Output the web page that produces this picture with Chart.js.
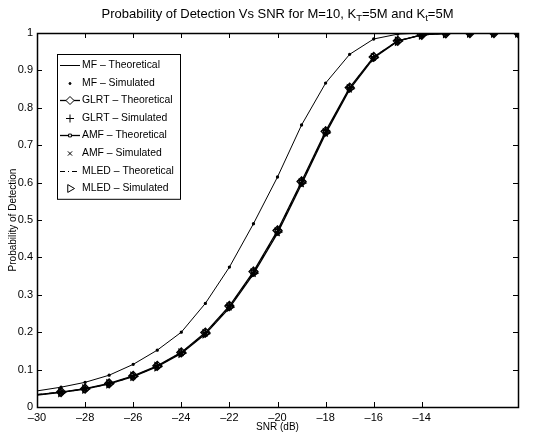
<!DOCTYPE html>
<html>
<head>
<meta charset="utf-8">
<script src="https://cdn.jsdelivr.net/npm/chart.js@4.4.1/dist/chart.umd.min.js"></script>
<style>
  html, body { margin: 0; padding: 0; background: #fff; }
</style>
</head>
<body>
<canvas id="myChart" width="543" height="438"></canvas>
<script>
// SNR grid (dB)
const snr = [-30, -29, -28, -27, -26, -25, -24, -23, -22, -21, -20, -19, -18, -17, -16, -15, -14, -13, -12, -11, -10];
const snrSim = snr.slice(1);

// theoretical curves, one value per snr point
const mfTheory   = [0.043, 0.053, 0.066, 0.085, 0.114, 0.152, 0.200, 0.277, 0.374, 0.490, 0.615, 0.754, 0.866, 0.943, 0.984, 0.997, 1.000, 1.000, 1.000, 1.000, 1.000];
const glrtTheory = [0.033, 0.040, 0.049, 0.063, 0.083, 0.110, 0.146, 0.199, 0.270, 0.362, 0.472, 0.603, 0.737, 0.854, 0.936, 0.979, 0.995, 0.999, 1.000, 1.000, 1.000];
const amfTheory  = [0.032, 0.039, 0.048, 0.062, 0.081, 0.108, 0.143, 0.195, 0.265, 0.356, 0.465, 0.596, 0.731, 0.849, 0.933, 0.978, 0.995, 0.999, 1.000, 1.000, 1.000];
const mledTheory = [0.033, 0.040, 0.048, 0.062, 0.082, 0.109, 0.145, 0.197, 0.268, 0.359, 0.469, 0.600, 0.734, 0.852, 0.935, 0.979, 0.995, 0.999, 1.000, 1.000, 1.000];

// simulated curves, from -29 dB
const mfSim   = [0.053, 0.066, 0.085, 0.114, 0.152, 0.200, 0.277, 0.374, 0.490, 0.615, 0.754, 0.866, 0.943, 0.984, 0.997, 1.000, 1.000, 1.000, 1.000, 1.000];
const glrtSim = [0.041, 0.050, 0.064, 0.084, 0.111, 0.147, 0.200, 0.272, 0.364, 0.474, 0.605, 0.739, 0.855, 0.937, 0.980, 0.995, 0.999, 1.000, 1.000, 1.000];
const amfSim  = [0.038, 0.047, 0.061, 0.080, 0.107, 0.142, 0.194, 0.264, 0.354, 0.463, 0.594, 0.729, 0.847, 0.932, 0.977, 0.994, 0.999, 1.000, 1.000, 1.000];
const mledSim = [0.039, 0.048, 0.062, 0.082, 0.108, 0.144, 0.196, 0.267, 0.358, 0.468, 0.599, 0.733, 0.851, 0.934, 0.978, 0.995, 0.999, 1.000, 1.000, 1.000];

// axis ticks
const xTicks = [-30, -28, -26, -24, -22, -20, -18, -16, -14];
const xTickLabels = ['\u201330', '\u201328', '\u201326', '\u201324', '\u201322', '\u201320', '\u201318', '\u201316', '\u201314'];
const yTicks = [0, 0.1, 0.2, 0.3, 0.4, 0.5, 0.6, 0.7, 0.8, 0.9, 1];
const yTickLabels = ['0', '0.1', '0.2', '0.3', '0.4', '0.5', '0.6', '0.7', '0.8', '0.9', '1'];

const FONT = 'Liberation Sans, Arial, Helvetica, sans-serif';

const pts = (xs, ys) => xs.map((x, i) => ({ x: x, y: ys[i] }));

const lineSet = (label, xs, ys, extra) => Object.assign({
  label: label,
  data: pts(xs, ys),
  borderColor: '#000',
  backgroundColor: 'rgba(0,0,0,0)',
  borderWidth: 1,
  pointRadius: 0,
  pointBorderColor: '#000',
  pointBackgroundColor: 'rgba(0,0,0,0)',
  pointBorderWidth: 1.3,
  tension: 0,
  showLine: true
}, extra || {});

const markerSet = (label, xs, ys, style, radius, extra) => lineSet(label, xs, ys, Object.assign({
  showLine: false,
  pointStyle: style,
  pointRadius: radius,
  legendRadius: radius
}, extra || {}));

// no marker on the first (-30 dB) theoretical point, as in the plot
const skipFirst = (r) => snr.map((v, i) => i === 0 ? 0 : r);

// title with subscripts
const titlePlugin = {
  id: 'titlePlugin',
  afterDraw(chart) {
    const ctx = chart.ctx;
    const parts = [
      ['Probability of Detection Vs SNR for M=10, K', false],
      ['T', true],
      ['=5M and K', false],
      ['t', true],
      ['=5M', false]
    ];
    const big = '13px ' + FONT, small = '9.5px ' + FONT;
    ctx.save();
    let total = 0;
    parts.forEach(p => { ctx.font = p[1] ? small : big; total += ctx.measureText(p[0]).width; });
    const area = chart.chartArea;
    let x = (area.left + area.right) / 2 - total / 2;
    const base = 18;
    ctx.fillStyle = '#000';
    ctx.textBaseline = 'alphabetic';
    ctx.textAlign = 'left';
    parts.forEach(p => {
      ctx.font = p[1] ? small : big;
      ctx.fillText(p[0], x, p[1] ? base + 3 : base);
      x += ctx.measureText(p[0]).width;
    });
    ctx.restore();
  }
};

// box and inward ticks, MATLAB style
const framePlugin = {
  id: 'framePlugin',
  afterDatasetsDraw(chart) {
    const ctx = chart.ctx;
    const a = chart.chartArea;
    const xs = chart.scales.x, ys = chart.scales.y;
    const tl = 5;
    ctx.save();
    ctx.strokeStyle = '#000';
    ctx.lineWidth = 1;
    ctx.beginPath();
    xTicks.forEach(v => {
      const px = Math.round(xs.getPixelForValue(v)) + 0.5;
      ctx.moveTo(px, a.bottom); ctx.lineTo(px, a.bottom - tl);
      ctx.moveTo(px, a.top); ctx.lineTo(px, a.top + tl);
    });
    yTicks.forEach(v => {
      const py = Math.round(ys.getPixelForValue(v)) + 0.5;
      ctx.moveTo(a.left, py); ctx.lineTo(a.left + tl, py);
      ctx.moveTo(a.right, py); ctx.lineTo(a.right - tl, py);
    });
    ctx.stroke();
    ctx.lineWidth = 1.5;
    ctx.strokeRect(Math.round(a.left) + 0.5, Math.round(a.top) + 0.5, Math.round(a.right - a.left), Math.round(a.bottom - a.top));
    ctx.restore();
  }
};

// legend drawn inside the plot area
const legendBox = {
  id: 'legendBox',
  afterDraw(chart) {
    const ctx = chart.ctx;
    const a = chart.chartArea;
    const x0 = a.left + 20, y0 = a.top + 21, w = 123, rowH = 17.6;
    const sets = chart.data.datasets;
    const h = rowH * sets.length + 4;
    ctx.save();
    ctx.fillStyle = '#fff';
    ctx.fillRect(x0, y0, w, h);
    ctx.strokeStyle = '#000';
    ctx.lineWidth = 1;
    ctx.strokeRect(x0 + 0.5, y0 + 0.5, w, h);
    ctx.font = '10.4px ' + FONT;
    ctx.textBaseline = 'middle';
    sets.forEach((ds, i) => {
      const y = Math.round(y0 + 11 + i * rowH) + 0.5;
      if (ds.showLine) {
        ctx.beginPath();
        ctx.setLineDash(ds.borderDash || []);
        ctx.lineWidth = ds.borderWidth;
        ctx.strokeStyle = '#000';
        ctx.moveTo(x0 + 3, y); ctx.lineTo(x0 + 23, y);
        ctx.stroke();
        ctx.setLineDash([]);
      }
      if (ds.legendRadius) {
        ctx.strokeStyle = '#000';
        ctx.fillStyle = ds.pointStyle === 'circle' ? '#000' : '#fff';
        ctx.lineWidth = 1;
        Chart.helpers.drawPoint(ctx, {
          pointStyle: ds.pointStyle,
          radius: ds.legendRadius,
          rotation: ds.pointRotation || 0,
          borderWidth: 1
        }, x0 + 13, y);
      }
      ctx.fillStyle = '#000';
      ctx.fillText(ds.label, x0 + 25, y);
    });
    ctx.restore();
  }
};

const context = document.getElementById('myChart').getContext('2d');
const myChart = new Chart(context, {
  type: 'line',
  data: {
    datasets: [
      lineSet('MF \u2013 Theoretical', snr, mfTheory),
      markerSet('MF \u2013 Simulated', snrSim, mfSim, 'circle', 1, { pointBackgroundColor: '#000' }),
      lineSet('GLRT \u2013 Theoretical', snr, glrtTheory, { borderWidth: 1.3, pointStyle: 'rectRot', pointRadius: skipFirst(4.5), legendRadius: 4 }),
      markerSet('GLRT \u2013 Simulated', snrSim, glrtSim, 'cross', 4),
      lineSet('AMF \u2013 Theoretical', snr, amfTheory, { borderWidth: 1.3, pointStyle: 'rect', pointRadius: skipFirst(2), legendRadius: 2 }),
      markerSet('AMF \u2013 Simulated', snrSim, amfSim, 'crossRot', 3),
      lineSet('MLED \u2013 Theoretical', snr, mledTheory, { borderWidth: 1.2, borderDash: [5, 3, 1, 3] }),
      markerSet('MLED \u2013 Simulated', snrSim, mledSim, 'triangle', 4.5, { pointRotation: 90 })
    ]
  },
  options: {
    responsive: false,
    animation: false,
    devicePixelRatio: 1,
    layout: { padding: { left: 0, top: 33, right: 25, bottom: 0 } },
    plugins: {
      legend: { display: false },
      title: { display: false },
      tooltip: { enabled: false }
    },
    scales: {
      x: {
        type: 'linear',
        min: -30,
        max: -10,
        afterBuildTicks: (scale) => { scale.ticks = xTicks.map(v => ({ value: v })); },
        afterFit: (scale) => { scale.height = 31; },
        grid: { display: false, drawTicks: false },
        border: { display: false },
        ticks: {
          padding: 4,
          color: '#000',
          font: { family: FONT, size: 11 },
          maxRotation: 0,
          callback: (value) => xTickLabels[xTicks.indexOf(value)]
        },
        title: {
          display: true,
          text: 'SNR (dB)',
          color: '#000',
          font: { family: FONT, size: 10 },
          padding: { top: 0, bottom: 5 }
        }
      },
      y: {
        type: 'linear',
        min: 0,
        max: 1,
        afterBuildTicks: (scale) => { scale.ticks = yTicks.map(v => ({ value: v })); },
        afterFit: (scale) => { scale.width = 37; },
        grid: { display: false, drawTicks: false },
        border: { display: false },
        ticks: {
          padding: 4,
          color: '#000',
          font: { family: FONT, size: 11 },
          callback: (value) => yTickLabels[yTicks.indexOf(value)]
        },
        title: {
          display: true,
          text: 'Probability of Detection',
          color: '#000',
          font: { family: FONT, size: 10 },
          padding: { top: 7, bottom: 0 }
        }
      }
    }
  },
  plugins: [framePlugin, legendBox, titlePlugin]
});
</script>
</body>
</html>
